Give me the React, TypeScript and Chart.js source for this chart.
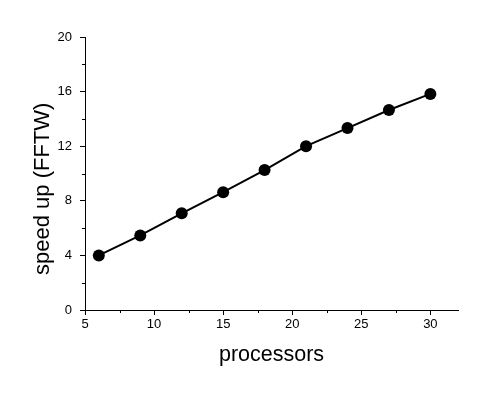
import React, { useEffect, useRef } from "react";
import { Chart, registerables } from "chart.js";

Chart.register(...registerables);

const processors = [6, 9, 12, 15, 18, 21, 24, 27, 30];
const speedup = [4.0, 5.46, 7.08, 8.63, 10.25, 12.0, 13.33, 14.65, 15.83];
const xMinorTicks = [7.5, 12.5, 17.5, 22.5, 27.5];
const yMinorTicks = [2, 6, 10, 14, 18];

const FONT = "'Liberation Sans', Arial, sans-serif";

const minorTicksPlugin = {
  id: "minorTicks",
  afterDraw(chart: any) {
    const ctx = chart.ctx;
    const xs = chart.scales.x;
    const ys = chart.scales.y;
    const area = chart.chartArea;
    ctx.save();
    ctx.strokeStyle = "#000";
    ctx.lineWidth = 1;
    ctx.beginPath();
    for (const v of xMinorTicks) {
      const px = Math.round(xs.getPixelForValue(v)) + 0.5;
      ctx.moveTo(px, area.bottom);
      ctx.lineTo(px, area.bottom + 3);
    }
    for (const v of yMinorTicks) {
      const py = Math.round(ys.getPixelForValue(v)) + 0.5;
      ctx.moveTo(area.left, py);
      ctx.lineTo(area.left - 3, py);
    }
    ctx.stroke();
    ctx.restore();
  },
};

export default function App() {
  const ref = useRef<HTMLCanvasElement | null>(null);

  useEffect(() => {
    document.body.style.margin = "0";
    if (!ref.current) return;
    const chart = new Chart(ref.current, {
      type: "line",
      data: {
        datasets: [
          {
            data: processors.map((x, i) => ({ x, y: speedup[i] })),
            borderColor: "#000",
            backgroundColor: "#000",
            borderWidth: 2,
            pointRadius: 6,
            pointBorderWidth: 0,
            pointBackgroundColor: "#000",
            tension: 0,
          },
        ],
      },
      options: {
        animation: false,
        responsive: false,
        devicePixelRatio: 1,
        layout: { padding: { left: 0, top: 37, right: 28, bottom: 0 } },
        plugins: { legend: { display: false }, tooltip: { enabled: false } },
        scales: {
          x: {
            type: "linear",
            min: 5,
            max: 32,
            afterFit(scale: any) {
              scale.height = 89;
            },
            ticks: {
              stepSize: 5,
              includeBounds: false,
              color: "#000",
              padding: 2,
              maxRotation: 0,
              font: { family: FONT, size: 13 },
            },
            grid: {
              drawOnChartArea: false,
              drawTicks: true,
              tickLength: 5,
              tickColor: "#000",
              color: "#000",
            },
            border: { color: "#000", width: 1 },
            title: {
              display: true,
              text: "processors",
              color: "#000",
              font: { family: FONT, size: 21.5 },
              padding: { top: 0, bottom: 31 },
            },
          },
          y: {
            type: "linear",
            min: 0,
            max: 20,
            afterFit(scale: any) {
              scale.width = 85;
            },
            ticks: {
              stepSize: 4,
              color: "#000",
              padding: 8,
              font: { family: FONT, size: 13 },
            },
            grid: {
              drawOnChartArea: false,
              drawTicks: true,
              tickLength: 5,
              tickColor: "#000",
              color: "#000",
            },
            border: { color: "#000", width: 1 },
            title: {
              display: true,
              text: "speed up (FFTW)     ",
              color: "#000",
              font: { family: FONT, size: 22 },
              padding: { top: 30, bottom: 0 },
            },
          },
        },
      },
      plugins: [minorTicksPlugin],
    });
    return () => chart.destroy();
  }, []);

  return (
    <div style={{ position: "absolute", left: 0, top: 0, width: 486, height: 399, background: "#fff" }}>
      <canvas ref={ref} width={486} height={399} style={{ width: 486, height: 399 }} />
    </div>
  );
}
